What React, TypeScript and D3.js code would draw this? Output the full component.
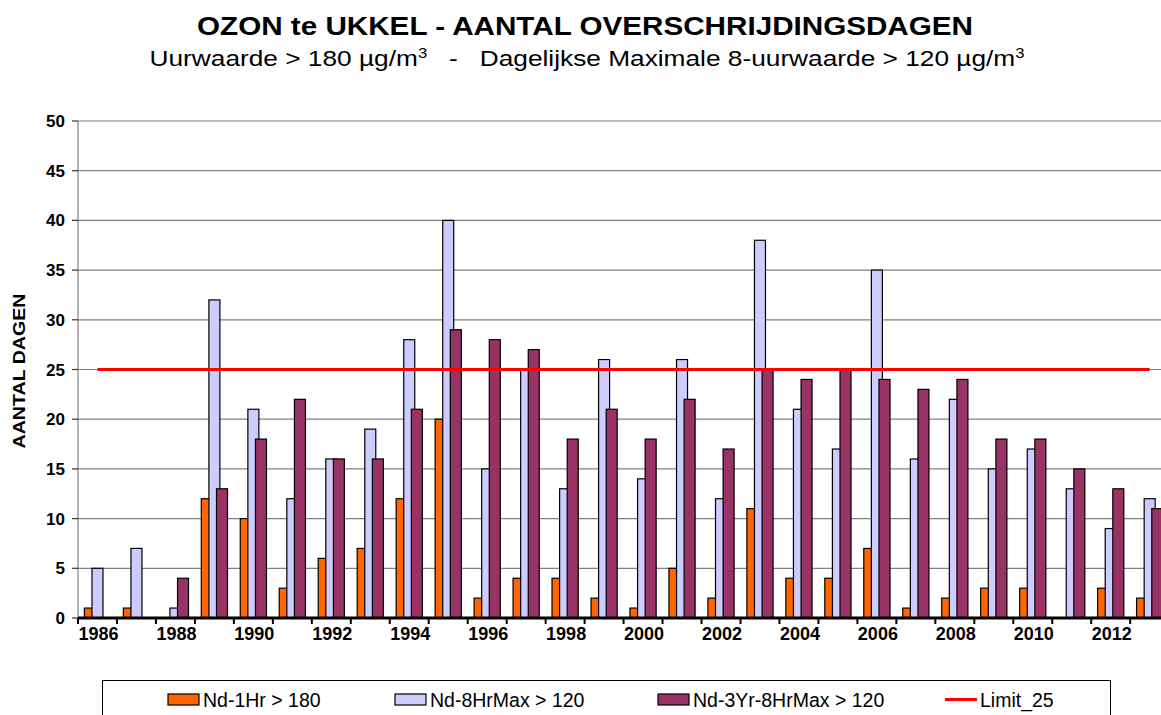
import React from 'react';
import * as d3 from 'd3';

const years = [1986, 1987, 1988, 1989, 1990, 1991, 1992, 1993, 1994, 1995, 1996, 1997, 1998, 1999,
  2000, 2001, 2002, 2003, 2004, 2005, 2006, 2007, 2008, 2009, 2010, 2011, 2012, 2013];
const nd1Hr180 = [1, 1, 0, 12, 10, 3, 6, 7, 12, 20, 2, 4, 4, 2, 1, 5, 2, 11, 4, 4, 7, 1, 2, 3, 3, 0, 3, 2];
const nd8HrMax120 = [5, 7, 1, 32, 21, 12, 16, 19, 28, 40, 15, 25, 13, 26, 14, 26, 12, 38, 21, 17, 35, 16, 22, 15, 17, 13, 9, 12];
const nd3Yr8HrMax120 = [0, 0, 4, 13, 18, 22, 16, 16, 21, 29, 28, 27, 18, 21, 18, 22, 17, 25, 24, 25, 24, 23, 24, 18, 18, 15, 13, 11];
const limitValue = 25;
const yTicks = [0, 5, 10, 15, 20, 25, 30, 35, 40, 45, 50];
const xTickLabels = [1986, 1988, 1990, 1992, 1994, 1996, 1998, 2000, 2002, 2004, 2006, 2008, 2010, 2012];

const seriesNames = ['Nd-1Hr > 180', 'Nd-8HrMax > 120', 'Nd-3Yr-8HrMax > 120'];
const seriesColors = ['#FF6600', '#CCCCFF', '#993366'];
const limitName = 'Limit_25';

const W = 1161;
const H = 715;
const FONT = '"Liberation Sans", Arial, sans-serif';

export default function App() {
  const plotLeft = 78;
  const step = 38.97;
  const plotRight = plotLeft + years.length * step;
  const plotTop = 121;
  const plotBottom = 618;

  const x = d3.scaleBand<number>().domain(years).range([plotLeft, plotRight]).padding(0);
  const y = d3.scaleLinear().domain([0, 50]).range([plotBottom, plotTop]);

  const bw = 11;
  const bstep = 7.6;
  const groupW = 2 * bstep + bw;
  const off = (x.bandwidth() - groupW) / 2;

  const series = [nd1Hr180, nd8HrMax120, nd3Yr8HrMax120];

  const limitLine = d3.line<number>()
    .x((yr) => (x(yr) as number) + x.bandwidth() / 2)
    .y(() => y(limitValue));

  return (
    <svg width={W} height={H} style={{ position: 'absolute', left: 0, top: 0, background: '#fff' }}
      fontFamily={FONT}>
      <rect x={0} y={0} width={W} height={H} fill="#fff" />
      {/* Title */}
      <text x={585} y={35} textAnchor="middle" fontSize={25} fontWeight="bold" fill="#000"
        textLength={776} lengthAdjust="spacingAndGlyphs">
        OZON te UKKEL - AANTAL OVERSCHRIJDINGSDAGEN
      </text>
      <text x={587} y={66} textAnchor="middle" fontSize={22} fill="#000"
        textLength={875} lengthAdjust="spacingAndGlyphs">
        <tspan>Uurwaarde &gt; 180 µg/m</tspan>
        <tspan dy={-8} fontSize={14}>3</tspan>
        <tspan dy={8}>{'\u00A0\u00A0\u00A0-\u00A0\u00A0\u00A0Dagelijkse Maximale 8-uurwaarde > 120 µg/m'}</tspan>
        <tspan dy={-8} fontSize={14}>3</tspan>
      </text>

      {/* Gridlines */}
      {yTicks.filter((t) => t > 0).map((t) => (
        <line key={'g' + t} x1={plotLeft} x2={W} y1={y(t)} y2={y(t)} stroke="#808080" strokeWidth={1.2} />
      ))}

      {/* Y axis */}
      <line x1={plotLeft} x2={plotLeft} y1={plotTop} y2={plotBottom} stroke="#808080" strokeWidth={1.2} />
      {yTicks.map((t) => (
        <g key={'yt' + t}>
          <line x1={plotLeft - 6} x2={plotLeft} y1={y(t)} y2={y(t)} stroke="#333" strokeWidth={1.2} />
          <text x={65} y={y(t) + 6} textAnchor="end" fontSize={17} fontWeight="bold" fill="#000">{t}</text>
        </g>
      ))}
      <text transform={`translate(25,371) rotate(-90)`} textAnchor="middle" fontSize={17} fontWeight="bold"
        fill="#000" textLength={155} lengthAdjust="spacingAndGlyphs">AANTAL DAGEN</text>

      {/* Bars */}
      {series.map((vals, si) => (
        <g key={'s' + si}>
          {vals.map((v, i) => v > 0 ? (
            <rect key={i}
              x={(x(years[i]) as number) + off + si * bstep}
              y={y(v)}
              width={bw}
              height={y(0) - y(v)}
              fill={seriesColors[si]}
              stroke="#000"
              strokeWidth={1.2} />
          ) : null)}
        </g>
      ))}

      {/* Limit line */}
      <path d={limitLine(years) || ''} fill="none" stroke="#FF0000" strokeWidth={3} />

      {/* X axis */}
      <line x1={plotLeft} x2={W} y1={plotBottom} y2={plotBottom} stroke="#000" strokeWidth={3} />
      {years.map((yr) => (
        <line key={'xt' + yr} x1={x(yr) as number} x2={x(yr) as number} y1={plotBottom} y2={plotBottom + 6}
          stroke="#000" strokeWidth={2} />
      ))}
      {xTickLabels.map((yr) => (
        <text key={'xl' + yr} x={(x(yr) as number) + x.bandwidth() / 2 + 1} y={640} textAnchor="middle"
          fontSize={18} fontWeight="bold" fill="#000">{yr}</text>
      ))}

      {/* Legend */}
      <rect x={102.5} y={680.5} width={1008} height={60} fill="#fff" stroke="#000" strokeWidth={1} />
      {[168, 395, 658].map((lx, i) => (
        <g key={'lg' + i}>
          <rect x={lx} y={694} width={31} height={11} fill={seriesColors[i]} stroke="#000" strokeWidth={1.2} />
          <text x={lx + 35} y={706.5} fontSize={19.5} fill="#000">{seriesNames[i]}</text>
        </g>
      ))}
      <line x1={945} x2={977} y1={699.5} y2={699.5} stroke="#FF0000" strokeWidth={3} />
      <text x={980} y={706.5} fontSize={19.5} fill="#000">{limitName}</text>
    </svg>
  );
}
